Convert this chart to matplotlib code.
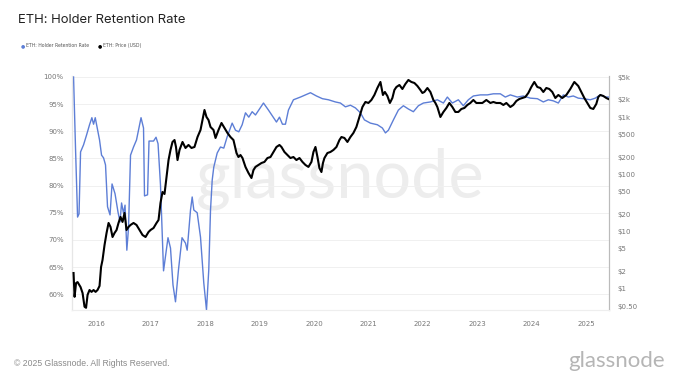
import matplotlib.pyplot as plt
from matplotlib.ticker import FixedLocator, FixedFormatter

# ETH holder retention rate (%), x in decimal years
ret_years = [2015.577, 2015.614, 2015.651, 2015.678, 2015.706, 2015.761, 2015.816, 2015.871,
             2015.914, 2015.945, 2015.976, 2016.009, 2016.055, 2016.092, 2016.129, 2016.165,
             2016.202, 2016.248, 2016.285, 2016.340, 2016.395, 2016.432, 2016.460, 2016.496,
             2016.524, 2016.557, 2016.588, 2016.625, 2016.680, 2016.735, 2016.772, 2016.818,
             2016.864, 2016.882, 2016.938, 2016.965, 2017.048, 2017.094, 2017.131, 2017.176,
             2017.232, 2017.314, 2017.360, 2017.406, 2017.452, 2017.507, 2017.572, 2017.636,
             2017.667, 2017.728, 2017.759, 2017.789, 2017.851, 2017.912, 2017.972, 2018.022,
             2018.064, 2018.096, 2018.127, 2018.156, 2018.219, 2018.279, 2018.340, 2018.403,
             2018.494, 2018.555, 2018.616, 2018.678, 2018.739, 2018.800, 2018.862, 2018.923,
             2018.983, 2019.070, 2019.162, 2019.235, 2019.309, 2019.364, 2019.419, 2019.474,
             2019.529, 2019.621, 2019.750, 2019.842, 2019.934, 2020.044, 2020.154, 2020.265,
             2020.393, 2020.485, 2020.577, 2020.669, 2020.761, 2020.853, 2020.926, 2021.037,
             2021.165, 2021.257, 2021.313, 2021.368, 2021.460, 2021.551, 2021.643, 2021.735,
             2021.827, 2021.919, 2022.011, 2022.140, 2022.268, 2022.379, 2022.452, 2022.544,
             2022.654, 2022.746, 2022.838, 2022.930, 2023.059, 2023.188, 2023.298, 2023.426,
             2023.518, 2023.610, 2023.739, 2023.849, 2023.978, 2024.107, 2024.217, 2024.309,
             2024.401, 2024.493, 2024.585, 2024.676, 2024.768, 2024.860, 2024.952, 2025.081,
             2025.173, 2025.265, 2025.357, 2025.412]
retention = [100.0, 86.6, 74.2, 74.8, 86.2, 87.5, 89.3, 91.2,
             92.5, 91.3, 92.5, 90.8, 88.4, 85.6, 85.1, 83.8,
             76.1, 74.6, 80.3, 78.5, 75.1, 73.3, 76.8, 74.9,
             76.4, 68.1, 72.2, 85.6, 87.1, 88.4, 90.2, 92.5,
             90.6, 78.1, 78.3, 88.2, 88.2, 88.9, 87.7, 80.1,
             64.3, 70.4, 68.5, 61.7, 58.6, 64.5, 70.4, 69.4,
             68.1, 75.5, 77.9, 75.5, 75.0, 70.5, 62.1, 57.1,
             64.5, 75.5, 81.0, 83.4, 86.0, 87.1, 86.9, 89.0,
             91.5, 90.2, 89.9, 91.2, 93.4, 92.6, 93.6, 93.0,
             93.9, 95.2, 93.9, 92.8, 91.7, 92.6, 91.3, 91.3,
             93.9, 95.8, 96.3, 96.7, 97.1, 96.5, 96.0, 95.8,
             95.4, 95.2, 94.5, 94.8, 94.3, 93.4, 92.1, 91.5,
             91.2, 90.6, 89.7, 90.2, 92.1, 93.9, 94.7, 94.1,
             93.6, 94.7, 95.2, 95.4, 95.8, 95.2, 96.3, 95.2,
             95.8, 94.7, 95.8, 96.5, 96.7, 96.7, 96.9, 96.9,
             96.3, 96.7, 96.3, 96.5, 96.1, 96.0, 95.4, 95.8,
             95.6, 95.2, 96.7, 96.3, 96.5, 96.1, 96.0, 95.8,
             96.1, 96.7, 96.3, 96.3]

# ETH price (USD), log scale on the right axis
price_years = [2015.577, 2015.596, 2015.623, 2015.651, 2015.706, 2015.743, 2015.779, 2015.807,
               2015.835, 2015.871, 2015.908, 2015.945, 2015.982, 2016.018, 2016.055, 2016.083,
               2016.110, 2016.147, 2016.184, 2016.221, 2016.257, 2016.294, 2016.331, 2016.368,
               2016.404, 2016.441, 2016.478, 2016.515, 2016.551, 2016.588, 2016.625, 2016.680,
               2016.735, 2016.790, 2016.846, 2016.901, 2016.956, 2016.993, 2017.048, 2017.103,
               2017.140, 2017.176, 2017.213, 2017.250, 2017.287, 2017.324, 2017.360, 2017.397,
               2017.434, 2017.461, 2017.489, 2017.526, 2017.581, 2017.636, 2017.691, 2017.746,
               2017.801, 2017.857, 2017.912, 2017.949, 2017.985, 2018.022, 2018.059, 2018.096,
               2018.151, 2018.188, 2018.243, 2018.298, 2018.353, 2018.408, 2018.463, 2018.518,
               2018.574, 2018.610, 2018.647, 2018.684, 2018.739, 2018.794, 2018.849, 2018.886,
               2018.923, 2018.978, 2019.033, 2019.088, 2019.143, 2019.199, 2019.254, 2019.309,
               2019.364, 2019.401, 2019.456, 2019.511, 2019.566, 2019.621, 2019.676, 2019.732,
               2019.787, 2019.842, 2019.897, 2019.952, 2019.989, 2020.026, 2020.063, 2020.099,
               2020.136, 2020.164, 2020.191, 2020.246, 2020.301, 2020.357, 2020.412, 2020.467,
               2020.504, 2020.559, 2020.614, 2020.669, 2020.724, 2020.779, 2020.835, 2020.890,
               2020.945, 2021.000, 2021.055, 2021.110, 2021.165, 2021.221, 2021.267, 2021.303,
               2021.349, 2021.395, 2021.441, 2021.478, 2021.515, 2021.570, 2021.625, 2021.680,
               2021.735, 2021.790, 2021.846, 2021.901, 2021.956, 2021.993, 2022.029, 2022.085,
               2022.140, 2022.195, 2022.232, 2022.268, 2022.324, 2022.379, 2022.434, 2022.489,
               2022.544, 2022.599, 2022.654, 2022.710, 2022.765, 2022.820, 2022.875, 2022.930,
               2022.985, 2023.040, 2023.096, 2023.169, 2023.243, 2023.298, 2023.353, 2023.426,
               2023.482, 2023.537, 2023.610, 2023.665, 2023.721, 2023.776, 2023.831, 2023.886,
               2023.941, 2023.996, 2024.051, 2024.107, 2024.162, 2024.217, 2024.272, 2024.327,
               2024.382, 2024.438, 2024.493, 2024.566, 2024.640, 2024.713, 2024.787, 2024.860,
               2024.915, 2024.971, 2025.026, 2025.081, 2025.136, 2025.191, 2025.228, 2025.265,
               2025.320, 2025.375, 2025.412]
price = [1.90, 0.73, 1.27, 1.32, 1.08, 0.85, 0.49, 0.47,
         0.79, 0.96, 0.89, 0.96, 0.89, 0.96, 1.13, 2.42,
         3.21, 5.86, 9.49, 14.2, 12.1, 8.08, 9.49, 10.7,
         14.2, 18.1, 14.8, 21.2, 10.7, 12.1, 13.1, 14.2,
         13.1, 10.7, 8.75, 8.08, 9.88, 10.7, 11.6, 14.2,
         16.0, 31.7, 49.3, 45.5, 90.1, 178, 267, 368,
         398, 301, 178, 267, 368, 289, 326, 289,
         301, 449, 596, 890, 1330, 1004, 890, 672,
         596, 432, 596, 789, 646, 528, 449, 398,
         236, 201, 218, 193, 135, 106, 86.5, 119,
         135, 146, 158, 165, 193, 201, 246, 301,
         326, 301, 246, 218, 193, 201, 178, 193,
         165, 146, 135, 165, 246, 301, 201, 129,
         110, 158, 193, 236, 246, 267, 301, 398,
         449, 432, 368, 449, 528, 672, 1004, 1500,
         1835, 1763, 1988, 2430, 3220, 4100, 2430, 2742,
         2335, 1763, 2154, 2970, 3350, 3630, 3090, 3784,
         4440, 4100, 3936, 3490, 2970, 2634, 2742, 3220,
         2742, 1988, 1763, 1500, 1004, 1228, 1442, 1763,
         1500, 1228, 1228, 1385, 1442, 1627, 1763, 1988,
         1763, 1763, 1763, 1988, 1763, 1835, 1763, 1763,
         1627, 1763, 1500, 1627, 1910, 2070, 2154, 2243,
         2634, 3350, 4100, 3350, 3220, 2742, 3220, 3090,
         2742, 2154, 2430, 2154, 2430, 3090, 4100, 3490,
         2742, 2154, 1763, 1442, 1385, 1694, 2243, 2430,
         2335, 2154, 2070]

pct_ticks = [60, 65, 70, 75, 80, 85, 90, 95, 100]
price_ticks = [0.5, 1, 2, 5, 10, 20, 50, 100, 200, 500, 1000, 2000, 5000]
price_labels = ['$0.50', '$1', '$2', '$5', '$10', '$20', '$50', '$100', '$200',
                '$500', '$1k', '$2k', '$5k']
year_ticks = list(range(2016, 2026))

blue = '#5d7ed6'
grey = '#8a8a8a'

fig = plt.figure(figsize=(6.8, 3.83), dpi=100)
ax = fig.add_axes([0.106, 0.1906, 0.790, 0.6110])
ax2 = ax.twinx()

# watermark behind the lines
ax.text(0.5, 0.56, 'glassnode', transform=ax.transAxes, ha='center', va='center',
        fontsize=48, color='#ededed', family='Lato', zorder=0)

ax.plot(ret_years, retention, color=blue, lw=1.0, zorder=3)
ax2.plot(price_years, price, color='black', lw=1.5, zorder=3)

ax.set_xlim(2015.55, 2025.43)
ax.set_ylim(57.09, 100.18)
ax2.set_yscale('log')
ax2.set_ylim(0.43, 5214)

ax.yaxis.set_major_locator(FixedLocator(pct_ticks))
ax.yaxis.set_major_formatter(FixedFormatter(['%d%%' % t for t in pct_ticks]))
ax2.yaxis.set_major_locator(FixedLocator(price_ticks))
ax2.yaxis.set_major_formatter(FixedFormatter(price_labels))
ax2.yaxis.set_minor_locator(FixedLocator([]))
ax.set_xticks(year_ticks)
ax.set_xticklabels([str(y) for y in year_ticks])

ax.grid(axis='y', color='#f0f0f0', lw=0.7)
ax.set_axisbelow(True)
for a in (ax, ax2):
    a.tick_params(length=0, labelsize=5, labelcolor='#777777', pad=6)
    a.spines['top'].set_visible(False)
    a.spines['left'].set_color('#e6e6e6')
    a.spines['bottom'].set_color('#eeeeee')
    a.spines['right'].set_color('#bbbbbb')
    a.spines['left'].set_linewidth(0.8)
    a.spines['right'].set_linewidth(0.8)
ax.tick_params(axis='x', pad=8)

fig.text(0.026, 0.947, 'ETH: Holder Retention Rate', fontsize=9.4, family='Inter',
         color='#222222', va='center')
fig.text(0.031, 0.882, '\u25cf', fontsize=3.5, color=blue, va='center')
fig.text(0.038, 0.882, 'ETH: Holder Retention Rate', fontsize=3.3, color='#555555', va='center')
fig.text(0.144, 0.882, '\u25cf', fontsize=3.5, color='black', va='center')
fig.text(0.152, 0.882, 'ETH: Price (USD)', fontsize=3.3, color='#555555', va='center')

fig.text(0.020, 0.052, '\u00a9 2025 Glassnode. All Rights Reserved.', fontsize=6.2,
         family='Liberation Sans', color=grey, va='center')
fig.text(0.978, 0.058, 'glassnode', fontsize=16, family='Lato', color='#b5b5b5',
         ha='right', va='center')

fig.savefig('out.png', dpi=100, facecolor='white')
